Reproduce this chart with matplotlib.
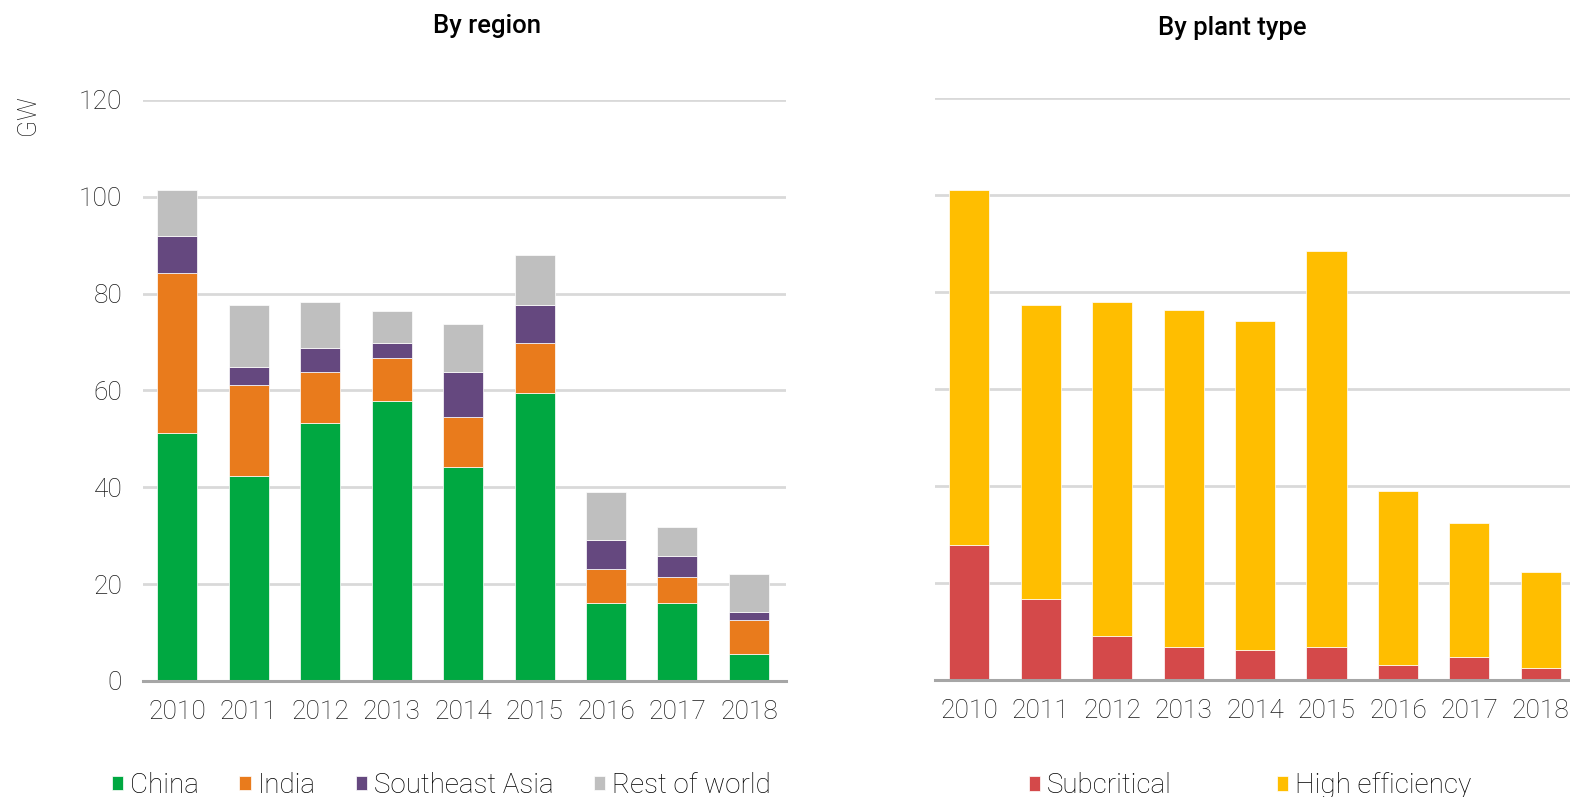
import matplotlib
matplotlib.use('Agg')
import matplotlib.pyplot as plt
import numpy as np

years = ['2010', '2011', '2012', '2013', '2014', '2015', '2016', '2017', '2018']

# capacity additions by region, GW
china = [51.2, 42.4, 53.3, 57.8, 44.1, 59.4, 16.0, 16.0, 5.5]
india = [33.1, 18.7, 10.5, 8.8, 10.4, 10.5, 7.1, 5.5, 7.1]
southeast_asia = [7.6, 3.8, 5.0, 3.2, 9.3, 7.7, 6.0, 4.3, 1.7]
rest_of_world = [9.5, 12.7, 9.4, 6.7, 9.9, 10.4, 9.9, 6.1, 7.7]

# capacity additions by plant type, GW
subcritical = [27.7, 16.7, 9.0, 6.8, 6.1, 6.8, 2.9, 4.6, 2.4]
high_efficiency = [73.3, 60.6, 68.9, 69.4, 67.9, 81.6, 36.0, 27.6, 19.8]

region_colors = ['#00A841', '#E97B1C', '#65487F', '#BFBFBF']
type_colors = ['#D4494A', '#FFBE00']

plt.rcParams['font.family'] = ['Roboto', 'DejaVu Sans']
plt.rcParams['font.weight'] = 'light'

fig = plt.figure(figsize=(15.7, 7.97), dpi=100)
ax1 = fig.add_axes([0.0911, 0.1456, 0.4096, 0.7290])
ax2 = fig.add_axes([0.5955, 0.1474, 0.4096, 0.7296])

x = np.arange(len(years))

def style_axis(ax, show_y):
    ax.set_ylim(0, 120)
    ax.set_xlim(-0.48, 8.52)
    ax.set_yticks(range(0, 121, 20))
    ax.yaxis.grid(True, color='#D9D9D9', linewidth=2.0)
    ax.set_axisbelow(True)
    for s in ['top', 'right', 'left']:
        ax.spines[s].set_visible(False)
    ax.spines['bottom'].set_color('#A6A6A6')
    ax.spines['bottom'].set_linewidth(2.2)
    ax.spines['bottom'].set_zorder(5)
    ax.tick_params(axis='both', length=0, labelsize=19, colors='#1a1a1a')
    ax.tick_params(axis='y', pad=15)
    ax.tick_params(axis='x', pad=14)
    ax.set_xticks(x)
    ax.set_xticklabels(years)
    if not show_y:
        ax.set_yticklabels([])

# left: stacked by region
bottom = np.zeros(len(years))
for vals, col, lab in zip([china, india, southeast_asia, rest_of_world], region_colors,
                          ['China', 'India', 'Southeast Asia', 'Rest of world']):
    ax1.bar(x, vals, width=0.56, bottom=bottom, color=col, label=lab,
            edgecolor='white', linewidth=0.5)
    bottom += np.array(vals)
style_axis(ax1, True)

# right: stacked by plant type
bottom = np.zeros(len(years))
for vals, col, lab in zip([subcritical, high_efficiency], type_colors,
                          ['Subcritical', 'High efficiency']):
    ax2.bar(x, vals, width=0.56, bottom=bottom, color=col, label=lab,
            edgecolor='white', linewidth=0.5)
    bottom += np.array(vals)
style_axis(ax2, False)

fig.text(0.018, 0.855, 'GW', rotation=90, ha='center', va='center', fontsize=18, color='#1a1a1a')
fig.text(0.310, 0.968, 'By region', ha='center', va='center', fontsize=18.5, fontweight='medium')
fig.text(0.785, 0.965, 'By plant type', ha='center', va='center', fontsize=18.5, fontweight='medium')

ax1.legend(loc='center', bbox_to_anchor=(0.464, -0.18), ncol=4, frameon=False, fontsize=20,
           handlelength=0.4, handleheight=0.4, handletextpad=0.25, columnspacing=1.45)
ax2.legend(loc='center', bbox_to_anchor=(0.49, -0.183), ncol=2, frameon=False, fontsize=20,
           handlelength=0.4, handleheight=0.4, handletextpad=0.25, columnspacing=3.8)

fig.savefig('out.png', dpi=100)
